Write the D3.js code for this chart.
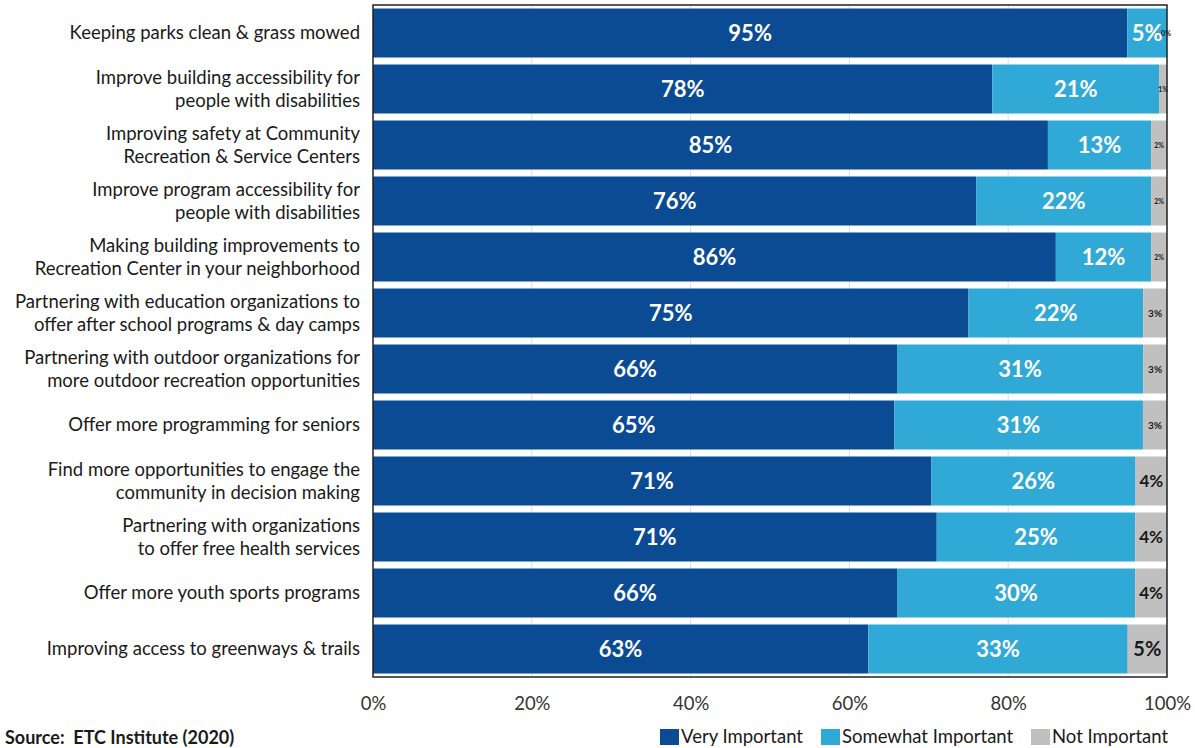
<!DOCTYPE html>
<html>
<head>
<meta charset="utf-8">
<script src="https://cdn.jsdelivr.net/npm/d3@7"></script>
<style>
  html, body { margin: 0; padding: 0; background: #fff; }
  svg { display: block; }
</style>
</head>
<body>
<svg id="chart" width="1195" height="748"></svg>
<script>
// Survey items (each entry is the lines of a wrapped label)
const categories = [
  ["Keeping parks clean & grass mowed"],
  ["Improve building accessibility for", "people with disabilities"],
  ["Improving safety at Community", "Recreation & Service Centers"],
  ["Improve program accessibility for", "people with disabilities"],
  ["Making building improvements to", "Recreation Center in your neighborhood"],
  ["Partnering with education organizations to", "offer after school programs & day camps"],
  ["Partnering with outdoor organizations for", "more outdoor recreation opportunities"],
  ["Offer more programming for seniors "],
  ["Find more opportunities to engage the", "community in decision making"],
  ["Partnering with organizations", "to offer free health services"],
  ["Offer more youth sports programs "],
  ["Improving access to greenways & trails "]
];
const veryImportant     = [95, 78, 85, 76, 86, 75, 66, 65, 71, 71, 66, 63];
const somewhatImportant = [5, 21, 13, 22, 12, 22, 31, 31, 26, 25, 30, 33];
const notImportant      = [0, 1, 2, 2, 2, 3, 3, 3, 4, 4, 4, 5];
const seriesNames = ["Very Important", "Somewhat Important", "Not Important"];
const tickValues = [0, 0.2, 0.4, 0.6, 0.8, 1.0];
const sourceNote = "Source:  ETC Institute (2020)";

const colors = ["#0b4b94", "#31a9d6", "#c0c0c0"];
const font = "Lato, 'Open Sans', sans-serif";

const svg = d3.select("#chart");
const plot = { left: 373, right: 1167, top: 5, bottom: 677 };

const rows = categories.map((c, i) => ({
  idx: i,
  lines: c,
  vals: [veryImportant[i], somewhatImportant[i], notImportant[i]]
}));

const x = d3.scaleLinear().domain([0, 1]).range([plot.left, plot.right]);
const y = d3.scaleBand()
  .domain(d3.range(rows.length))
  .range([plot.top, plot.bottom])
  .paddingInner(0.125)
  .paddingOuter(0.0625);

// vertical gridlines
svg.append("g")
  .selectAll("line")
  .data(tickValues.slice(1, -1))
  .join("line")
  .attr("x1", d => x(d)).attr("x2", d => x(d))
  .attr("y1", plot.top).attr("y2", plot.bottom)
  .attr("stroke", "#dcdcdc").attr("stroke-width", 1);

// stacked segments, each row normalised to a 100% total (rounded shares)
const stack = d3.stack()
  .keys([0, 1, 2])
  .value((d, k) => d.vals[k])
  .offset(d3.stackOffsetExpand);
const layers = stack(rows);

const gBars = svg.append("g");
layers.forEach((layer, k) => {
  gBars.append("g")
    .attr("fill", colors[k])
    .selectAll("rect")
    .data(layer)
    .join("rect")
    .attr("x", d => x(d[0]))
    .attr("y", (d, i) => y(i))
    .attr("width", d => Math.max(0, x(d[1]) - x(d[0])))
    .attr("height", y.bandwidth());
});

// segment value labels
const grayFontSize = v => v <= 2 ? 7 : v === 3 ? 10 : v === 4 ? 17 : 20;
layers.forEach((layer, k) => {
  svg.append("g")
    .selectAll("text")
    .data(layer)
    .join("text")
    .attr("x", d => k === 2 && d.data.vals[2] === 0 ? x(d[1]) - 1 : (x(d[0]) + x(d[1])) / 2)
    .attr("y", (d, i) => y(i) + y.bandwidth() / 2)
    .attr("dy", "0.36em")
    .attr("text-anchor", "middle")
    .attr("font-family", font)
    .attr("font-weight", "bold")
    .attr("font-size", d => k === 2 ? grayFontSize(d.data.vals[2]) : 22)
    .attr("fill", k === 2 ? "#1a1a1a" : "#ffffff")
    .text(d => d.data.vals[k] + "%");
});

// plot frame
svg.append("rect")
  .attr("x", plot.left).attr("y", plot.top)
  .attr("width", plot.right - plot.left).attr("height", plot.bottom - plot.top)
  .attr("fill", "none").attr("stroke", "#222").attr("stroke-width", 1.5);

// category labels
const lineH = 23;
const gLabels = svg.append("g")
  .attr("font-family", font)
  .attr("font-size", 18.5)
  .attr("fill", "#1a1a1a")
  .attr("text-anchor", "end")
  .style("white-space", "pre");
rows.forEach((r, i) => {
  const cy = y(i) + y.bandwidth() / 2;
  const n = r.lines.length;
  const t = gLabels.append("text").attr("x", 360);
  r.lines.forEach((ln, j) => {
    t.append("tspan")
      .attr("x", 360)
      .attr("y", cy + (j - (n - 1) / 2) * lineH)
      .attr("dy", "0.35em")
      .text(ln);
  });
});

// x axis
const xAxis = d3.axisBottom(x)
  .tickValues(tickValues)
  .tickFormat(d3.format(".0%"))
  .tickSize(0)
  .tickPadding(20);
const gx = svg.append("g")
  .attr("transform", `translate(0,${plot.bottom})`)
  .call(xAxis);
gx.select(".domain").remove();
gx.selectAll("text")
  .attr("font-family", font)
  .attr("font-size", 18.5)
  .attr("fill", "#333");

// legend
const legendItems = [
  { name: seriesNames[0], x: 660 },
  { name: seriesNames[1], x: 821 },
  { name: seriesNames[2], x: 1031 }
];
const gLeg = svg.append("g").attr("font-family", font).attr("font-size", 18.5).attr("fill", "#1a1a1a");
legendItems.forEach((it, k) => {
  gLeg.append("rect")
    .attr("x", it.x).attr("y", 729)
    .attr("width", 19).attr("height", 16)
    .attr("fill", colors[k]);
  gLeg.append("text")
    .attr("x", it.x + 21).attr("y", 737)
    .attr("dy", "0.35em")
    .text(it.name);
});

// source note
svg.append("text")
  .attr("x", 5).attr("y", 738)
  .attr("dy", "0.35em")
  .attr("font-family", font)
  .attr("font-size", 18)
  .attr("font-weight", "bold")
  .attr("fill", "#1a1a1a")
  .style("white-space", "pre")
  .text(sourceNote);
</script>
</body>
</html>
